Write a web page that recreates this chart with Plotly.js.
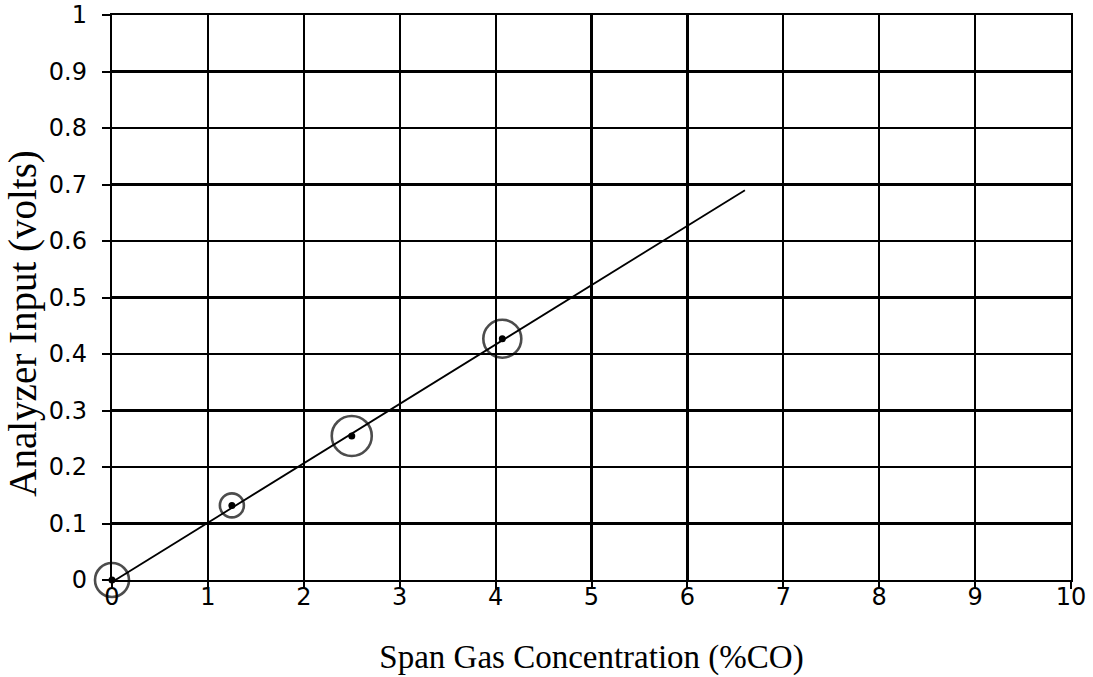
<!DOCTYPE html>
<html>
<head>
<meta charset="utf-8">
<script src="https://cdn.plot.ly/plotly-3.0.1.min.js"></script>
<style>html,body{margin:0;padding:0;background:#fff;}#chart{width:1093px;height:677px;}</style>
</head>
<body>
<div id="chart"></div>
<script>
const concentration = [0, 1.25, 2.5, 4.07];
const voltage = [0, 0.132, 0.255, 0.427];
const fitX = [-0.25, 6.6];
const fitY = [-0.03, 0.69];
const xTicks = [0,1,2,3,4,5,6,7,8,9,10];
const yTicks = [0,0.1,0.2,0.3,0.4,0.5,0.6,0.7,0.8,0.9,1];
const yTickText = ['0','0.1','0.2','0.3','0.4','0.5','0.6','0.7','0.8','0.9','1'];
const xTitle = 'Span Gas Concentration (%CO)';
const yTitle = 'Analyzer Input (volts)';

const traces = [
  {x: fitX, y: fitY, mode: 'lines', line: {color: '#000', width: 1.8}, cliponaxis: false, hoverinfo: 'skip'},
  {x: concentration, y: voltage, mode: 'markers', cliponaxis: false,
   marker: {symbol: 'circle-open', size: [34, 24, 40, 38], color: '#000', line: {width: 2.6, color: '#000'}}},
  {x: concentration, y: voltage, mode: 'markers', cliponaxis: false,
   marker: {symbol: 'circle', size: 7, color: '#000'}}
];

const axisFont = {family: 'DejaVu Sans, sans-serif', size: 24, color: '#000'};
const titleFont = {family: 'Liberation Serif, Times New Roman, serif', size: 33, color: '#000'};

const layout = {
  width: 1093, height: 677,
  margin: {l: 112, r: 22, t: 15, b: 97},
  paper_bgcolor: '#fff', plot_bgcolor: '#fff',
  showlegend: false,
  xaxis: {
    range: [0, 10], tickvals: xTicks, ticktext: xTicks.map(String),
    showgrid: true, gridcolor: '#000', gridwidth: 2.2,
    showline: true, linecolor: '#000', linewidth: 2.2, mirror: true,
    zeroline: false, ticks: 'outside', ticklen: 7, tickcolor: '#000', tickwidth: 2,
    tickfont: axisFont, ticklabelstandoff: -13,
    title: {text: xTitle, font: titleFont, standoff: 35}
  },
  yaxis: {
    range: [0, 1], tickvals: yTicks, ticktext: yTickText,
    showgrid: true, gridcolor: '#000', gridwidth: 2.2,
    showline: true, linecolor: '#000', linewidth: 2.2, mirror: true,
    zeroline: false, ticks: 'outside', ticklen: 8, tickcolor: '#000', tickwidth: 2,
    tickfont: axisFont, ticklabelstandoff: 10
  },
  annotations: [{
    text: yTitle, textangle: -90, showarrow: false,
    xref: 'paper', yref: 'paper', x: -0.093, y: 0.455,
    xanchor: 'center', yanchor: 'middle',
    font: {family: 'Liberation Serif, Times New Roman, serif', size: 39, color: '#000'}
  }]
};

Plotly.newPlot('chart', traces, layout, {displayModeBar: false, staticPlot: true});
</script>
</body>
</html>
